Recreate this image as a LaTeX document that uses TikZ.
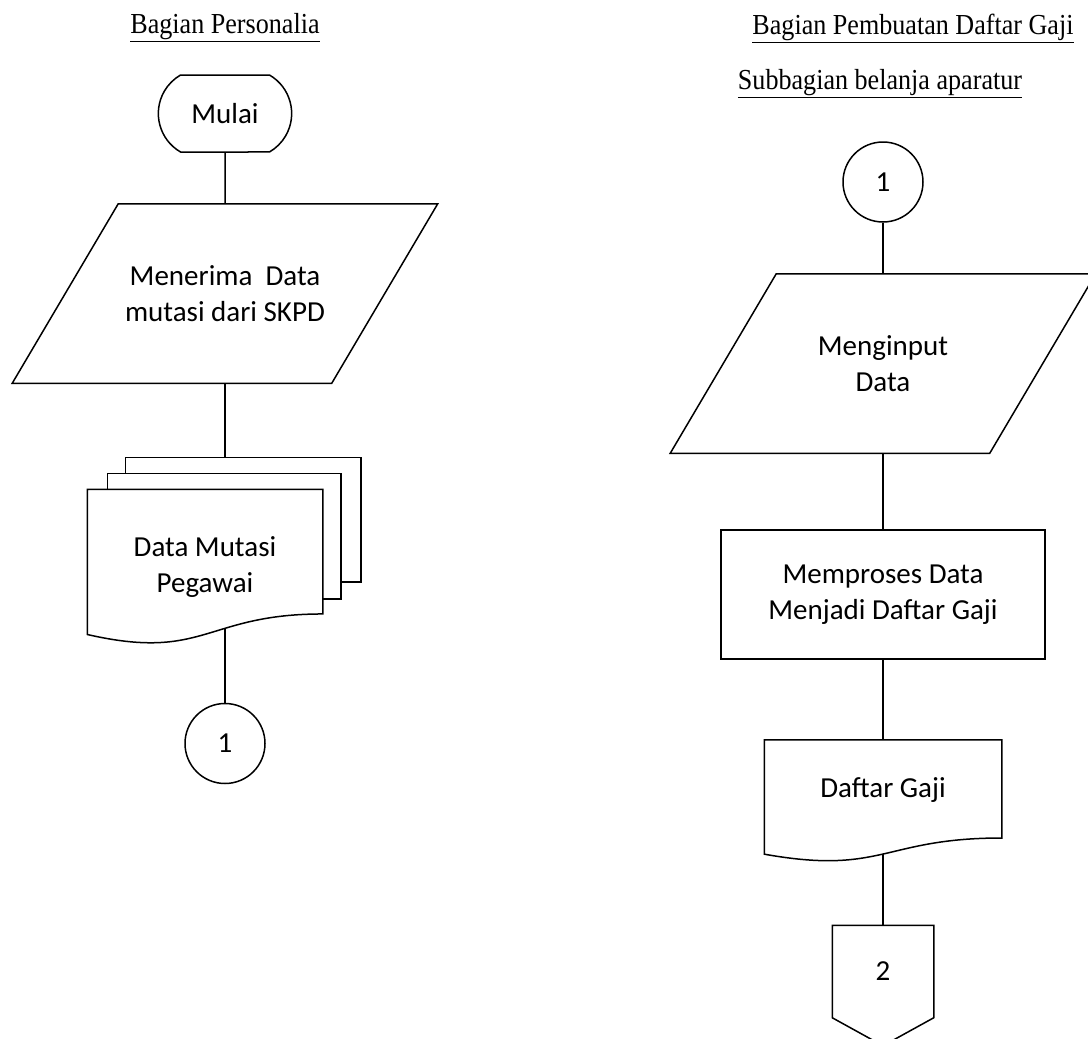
\documentclass[tikz,border=0pt]{standalone}
\usepackage{fontspec}
\setmainfont{Liberation Serif}
\newfontfamily\calibri{Carlito}
\newfontfamily\judulfont[FakeStretch=0.9]{Liberation Serif}
\usepackage{tikz}
\usetikzlibrary{shapes.misc, positioning, calc}
\pgfdeclarelayer{lines}
\pgfdeclarelayer{shapes}
\pgfsetlayers{lines,shapes,main}

\begin{document}
\begin{tikzpicture}[
    line width=1.5pt,
    node distance=51pt,
    every node/.style={font=\calibri\fontsize{29}{36}\selectfont, align=center},
    heading/.style={font=\judulfont\fontsize{29}{32}\selectfont},
    term/.style={draw, fill=white, rounded rectangle, rounded rectangle arc length=120,
      minimum width=140pt, minimum height=77pt},
    conn/.style={draw, fill=white, circle, minimum size=80pt, inner sep=0pt},
    proc/.style={draw, fill=white, rectangle, minimum width=324pt, minimum height=129pt},
    iobox/.style={rectangle, minimum width=318pt, minimum height=178pt},
    outline/.style={draw, fill=white, line width=1.5pt},
    link/.style={line width=1.5pt},
    iopath/.style={insert path={([xshift=53pt]#1.north west) -- ([xshift=53pt]#1.north east)
      -- ([xshift=-53pt]#1.south east) -- ([xshift=-53pt]#1.south west) -- cycle}},
    docpath/.style={insert path={(#1.north west) -- (#1.north east)
      -- ($(#1.south east)!0.198!(#1.north east)$)
      .. controls ($(#1.south)!0.198!(#1.north)$) and ($(#1.south)!-0.1075!(#1.north)$)
      .. ($(#1.south west)!0.066!(#1.north west)$) -- cycle}},
    offpath/.style={insert path={(#1.north west) -- (#1.north east) -- (#1.south east)
      -- ([yshift=-28pt]#1.south) -- (#1.south west) -- cycle}}
]
\useasboundingbox (0,0) rectangle (1088pt,-1039pt);

% column titles
\node[heading] (judulA) at (225pt,-28pt) {\underline{Bagian Personalia}};
\node[heading] (judulB) at (913pt,-28pt) {\underline{Bagian Pembuatan Daftar Gaji}};
\node[heading] (judulC) at (880pt,-84pt) {\underline{Subbagian belanja aparatur}};

% Bagian Personalia
\node[term] (mulai) at (225pt,-113.5pt) {Mulai};
\node[iobox, below=of mulai] (terima) {Menerima\ \ Data\\mutasi dari SKPD};
\node[rectangle, minimum width=234pt, minimum height=154pt,
  below=106pt of terima, xshift=-20pt] (mutasi) {Data Mutasi\\Pegawai};
\node[conn, below=58pt of mutasi, xshift=20pt] (sambungA) {1};

% Subbagian belanja aparatur
\node[conn] (sambungB) at (883pt,-182pt) {1};
\node[iobox, below=of sambungB] (input) {Menginput\\Data};
\node[proc, below=76pt of input] (proses) {Memproses Data\\Menjadi Daftar Gaji};
\node[rectangle, minimum width=236pt, minimum height=121pt, text depth=26pt,
  below=80pt of proses] (gaji) {Daftar Gaji};
\node[rectangle, minimum width=100pt, minimum height=91pt,
  below=63pt of gaji] (keluar) {2};

\begin{pgfonlayer}{shapes}
  \path[outline, iopath=terima];
  \path[outline, iopath=input];
  \draw[outline] ([xshift=38pt,yshift=32pt]mutasi.north west)
    rectangle ([xshift=38pt,yshift=63pt]mutasi.south east);
  \draw[outline] ([xshift=20pt,yshift=16pt]mutasi.north west)
    rectangle ([xshift=18pt,yshift=46pt]mutasi.south east);
  \path[outline, docpath=mutasi];
  \path[outline, docpath=gaji];
  \path[outline, offpath=keluar];
\end{pgfonlayer}

\begin{pgfonlayer}{lines}
  \draw[link] (mulai) -- (terima);
  \draw[link] (terima) -- (terima |- mutasi);
  \draw[link] (sambungA |- mutasi) -- (sambungA);
  \draw[link] (sambungB) -- (input);
  \draw[link] (input) -- (proses);
  \draw[link] (proses) -- (gaji);
  \draw[link] (gaji.center) -- (keluar);
\end{pgfonlayer}
\end{tikzpicture}
\end{document}
